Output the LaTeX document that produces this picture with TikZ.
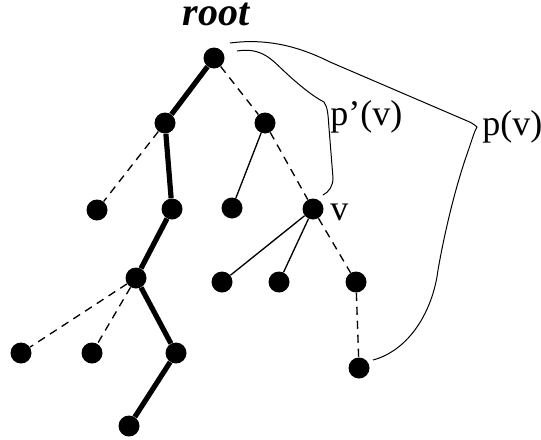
\documentclass[tikz,border=0pt]{standalone}
\usepackage{fontspec}
\setmainfont{Liberation Serif}

\begin{document}
\begin{tikzpicture}[x=0.75pt,y=-0.75pt]
\tikzstyle{vertice}=[circle,fill=black,inner sep=0pt,minimum size=15.75pt]
\tikzstyle{camino}=[line width=3.9pt]
\tikzstyle{rama}=[line width=1pt]
\tikzstyle{rama punteada}=[line width=1pt,dash pattern=on 6pt off 4.5pt]
\tikzstyle{llave}=[line width=0.75pt]
\tikzstyle{etiqueta}=[inner sep=0pt,anchor=base west,font=\fontsize{27pt}{32pt}\selectfont]

\useasboundingbox (0,0) rectangle (541,439);

\node[inner sep=0pt,anchor=base,text height=16pt,text depth=0pt,font=\fontsize{30pt}{34pt}\selectfont\bfseries\itshape] (titulo) at (216,25) {root};

\node[vertice] (raiz) at (214,58) {};
\node[vertice] (n1) at (165,123) {};
\node[vertice] (n2) at (265,123) {};
\node[vertice] (n3) at (97,210) {};
\node[vertice] (n4) at (172,209) {};
\node[vertice] (n5) at (232,208) {};
\node[vertice] (v) at (313,209) {};
\node[vertice] (n6) at (136,278) {};
\node[vertice] (n7) at (222,282) {};
\node[vertice] (n8) at (279,282) {};
\node[vertice] (n9) at (356,282) {};
\node[vertice] (n10) at (21,353) {};
\node[vertice] (n11) at (92,353) {};
\node[vertice] (n12) at (176,353) {};
\node[vertice] (n13) at (359,368) {};
\node[vertice] (n14) at (129,426) {};

\node[etiqueta] (lv) at (330,220) {v};
\node[etiqueta] (lpp) at (330,125) {p’(v)};
\node[etiqueta] (lp) at (482,135) {p(v)};

% camino grueso
\draw[camino] (raiz) -- (n1) -- (n4) -- (n6) -- (n12) -- (n14);
\draw[rama punteada] (raiz) -- (n2);
\draw[rama punteada] (n1) -- (n3);
\draw[rama] (n2) -- (n5);
\draw[rama punteada] (n2) -- (v);
\draw[rama] (v) -- (n7);
\draw[rama] (v) -- (n8);
\draw[rama punteada] (v) -- (n9);
\draw[rama punteada] (n9) -- (n13);
\draw[rama punteada] (n6) -- (n10);
\draw[rama punteada] (n6) -- (n11);

% llaves
\draw[llave] (237,51) .. controls (262,47) and (272,60) .. (285,72)
  .. controls (300,86) and (314,97) .. (324,102)
  .. controls (328,108) and (328,115) .. (329,128)
  -- (333,178) .. controls (333,186) and (329,192) .. (323,195);
\draw[llave] (230,43) .. controls (268,38) and (300,47) .. (330,62)
  -- (465,120) .. controls (470,122) and (474,124) .. (477,127)
  .. controls (474,132) and (472,140) .. (465,160)
  .. controls (455,190) and (445,230) .. (438,270)
  .. controls (433,310) and (410,350) .. (373,360);
\end{tikzpicture}
\end{document}
